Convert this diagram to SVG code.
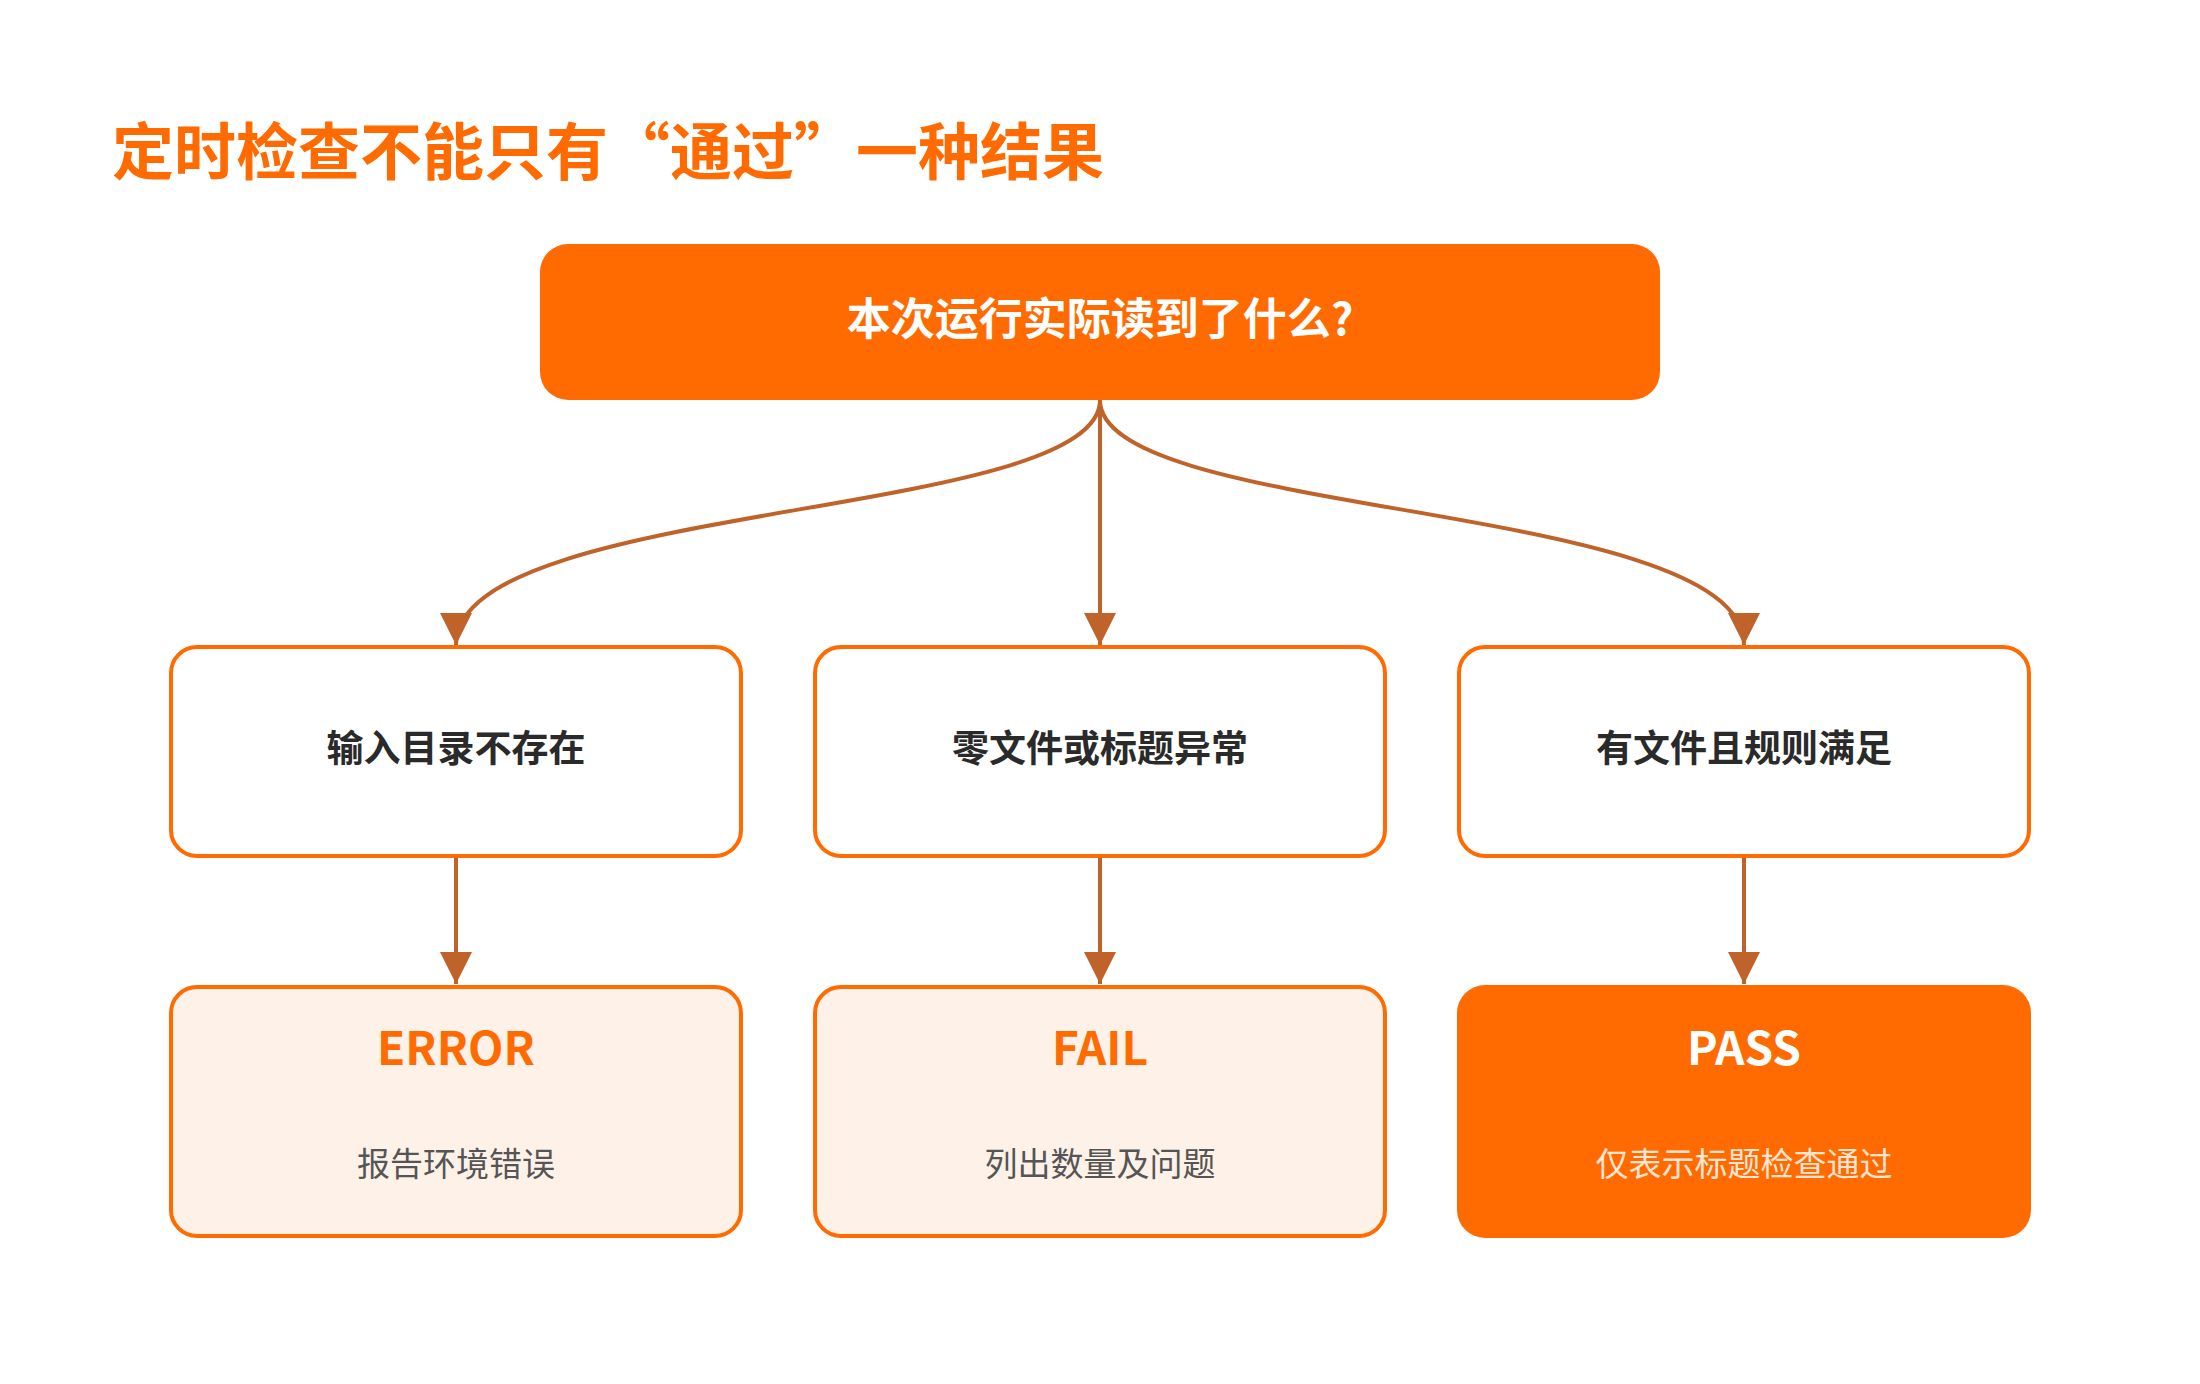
<svg xmlns="http://www.w3.org/2000/svg" width="2200" height="1384" viewBox="0 0 2200 1384">
<defs>
<style>
.t{font-family:"Noto Sans CJK SC","Noto Sans",sans-serif;font-weight:700;text-anchor:middle;dominant-baseline:central}
.mid{fill:#fff;stroke:#FF6B00;stroke-width:4}
.res{fill:#FEF1E8;stroke:#FF6B00;stroke-width:4}
.c{fill:none;stroke:#C0632A;stroke-width:4}
</style>
<marker id="a" viewBox="0 0 10 10" refX="10" refY="5" markerWidth="8" markerHeight="8" orient="auto" markerUnits="strokeWidth"><path d="M0,0L10,5L0,10z" fill="#C0632A"/></marker>
</defs>
<rect width="2200" height="1384" fill="#fff"/>
<text x="112" y="148" font-family="Noto Sans CJK SC,sans-serif" font-weight="700" font-size="62" fill="#FF6B00" dominant-baseline="central">定时检查不能只有“通过”一种结果</text>
<g id="connectors">
<path class="c" d="M1100,400 C1100,520 456,500 456,645" marker-end="url(#a)"/>
<path class="c" d="M1100,400 L1100,645" marker-end="url(#a)"/>
<path class="c" d="M1100,400 C1100,520 1744,500 1744,645" marker-end="url(#a)"/>
<path class="c" d="M456,856 L456,984" marker-end="url(#a)"/>
<path class="c" d="M1100,856 L1100,984" marker-end="url(#a)"/>
<path class="c" d="M1744,856 L1744,984" marker-end="url(#a)"/>
</g>
<g id="root"><rect x="540" y="244" width="1120" height="156" rx="28" fill="#FF6B00"/><text class="t" x="1100" y="316" font-size="44" fill="#fff">本次运行实际读到了什么?</text></g>
<g id="n1"><rect class="mid" x="171" y="647" width="570" height="209" rx="26"/><text class="t" x="456" y="746" font-size="37" fill="#2a2a2a">输入目录不存在</text></g>
<g id="n2"><rect class="mid" x="815" y="647" width="570" height="209" rx="26"/><text class="t" x="1100" y="746" font-size="37" fill="#2a2a2a">零文件或标题异常</text></g>
<g id="n3"><rect class="mid" x="1459" y="647" width="570" height="209" rx="26"/><text class="t" x="1744" y="746" font-size="37" fill="#2a2a2a">有文件且规则满足</text></g>
<g id="r1"><rect class="res" x="171" y="987" width="570" height="249" rx="26"/><text class="t" x="456" y="1045" font-size="46" fill="#FF6B00">ERROR</text><text class="t" x="456" y="1162" font-size="33" font-weight="400" style="font-weight:400" fill="#555">报告环境错误</text></g>
<g id="r2"><rect class="res" x="815" y="987" width="570" height="249" rx="26"/><text class="t" x="1100" y="1045" font-size="46" fill="#FF6B00">FAIL</text><text class="t" x="1100" y="1162" font-size="33" style="font-weight:400" fill="#555">列出数量及问题</text></g>
<g id="r3"><rect x="1457" y="985" width="574" height="253" rx="28" fill="#FF6B00"/><text class="t" x="1744" y="1045" font-size="46" fill="#fff">PASS</text><text class="t" x="1744" y="1162" font-size="33" style="font-weight:400" fill="#FFE6D4">仅表示标题检查通过</text></g>
</svg>
